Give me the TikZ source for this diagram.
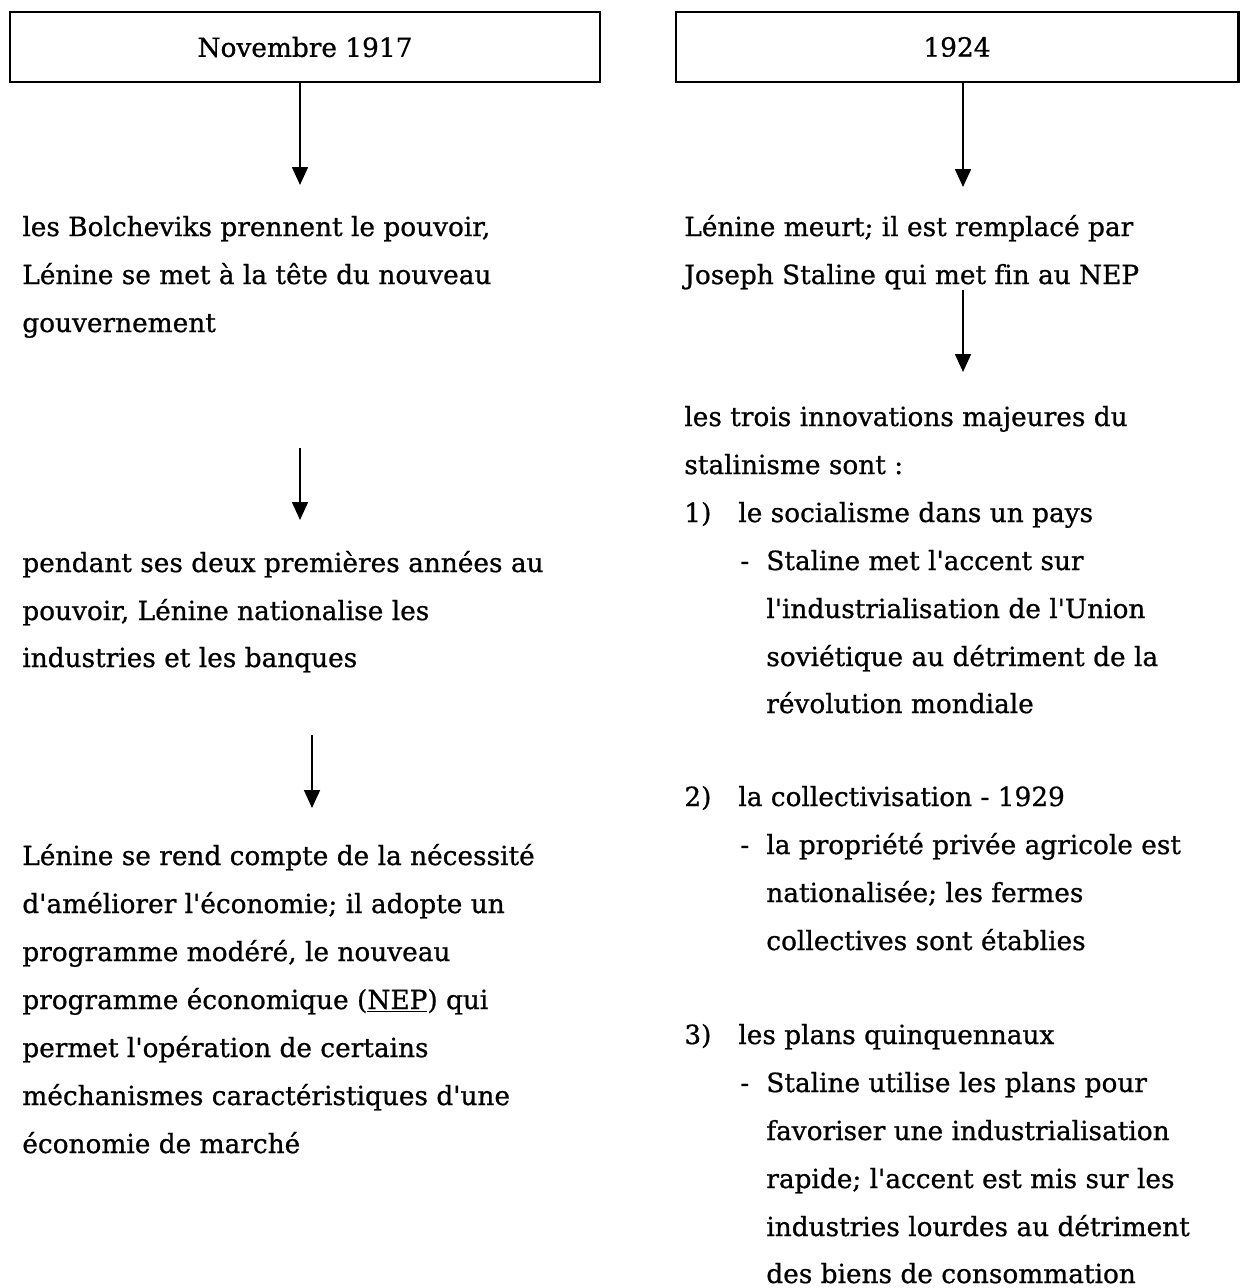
\documentclass[tikz,border=0pt]{standalone}
\usepackage{fontspec}
\setmainfont{DejaVu Serif}[Ligatures={TeXOff,NoCommon},FakeBold=0.8]
\usetikzlibrary{arrows.meta}
\newcommand{\corps}{\fontsize{15pt}{27pt}\selectfont}

\begin{document}
\begin{tikzpicture}[x=0.02cm,y=-0.02cm,
  datebox/.style={draw,line width=1.2pt,minimum height=1.4cm,inner sep=0pt,font=\corps},
  ligne/.style={anchor=base west,inner sep=0pt,font=\corps},
  fleche/.style={line width=1pt,-{Triangle[length=3.6mm,width=3.2mm]}}]
\useasboundingbox (0,0) rectangle (1241,1288);
% dates
\node[datebox,minimum width=11.8cm] (nov) at (305,47) {Novembre 1917};
\node[datebox,minimum width=11.26cm] (an) at (957,47) {1924};
% colonne de gauche
\coordinate (g1) at (300,185);
\draw[fleche] (nov.south -| g1) -- (g1);
\node[ligne] (ga1) at (22,236) {les Bolcheviks prennent le pouvoir,};
\node[ligne] (ga2) at (22,284) {Lénine se met à la tête du nouveau};
\node[ligne] (ga3) at (22,332) {gouvernement};
\coordinate (g2a) at (300,448);\coordinate (g2b) at (300,520);
\draw[fleche] (g2a) -- (g2b);
\node[ligne] (gb1) at (22,572) {pendant ses deux premières années au};
\node[ligne] (gb2) at (22,620) {pouvoir, Lénine nationalise les};
\node[ligne] (gb3) at (22,667) {industries et les banques};
\coordinate (g3a) at (312,735);\coordinate (g3b) at (312,808);
\draw[fleche] (g3a) -- (g3b);
\node[ligne] (gc1) at (22,865) {Lénine se rend compte de la nécessité};
\node[ligne] (gc2) at (22,913) {d'améliorer l'économie; il adopte un};
\node[ligne] (gc3) at (22,961) {programme modéré, le nouveau};
\node[ligne] (gc4) at (22,1009) {programme économique (\underline{NEP}) qui};
\node[ligne] (gc5) at (22,1057) {permet l'opération de certains};
\node[ligne] (gc6) at (22,1105) {méchanismes caractéristiques d'une};
\node[ligne] (gc7) at (22,1153) {économie de marché};
% colonne de droite
\coordinate (d1) at (963,187);
\draw[fleche] (an.south -| d1) -- (d1);
\node[ligne] (da1) at (684,236) {Lénine meurt; il est remplacé par};
\node[ligne] (da2) at (684,284) {Joseph Staline qui met fin au NEP};
\coordinate (d2a) at (963,290);\coordinate (d2b) at (963,372);
\draw[fleche] (d2a) -- (d2b);
\node[ligne] (db1) at (684,426) {les trois innovations majeures du};
\node[ligne] (db2) at (684,474) {stalinisme sont :};
% 1)
\node[ligne] (n1) at (684,522) {1)};
\node[ligne] (i1) at (738,522) {le socialisme dans un pays};
\node[ligne] (t1) at (740,570) {-};
\node[ligne] (s1a) at (766,570) {Staline met l'accent sur};
\node[ligne] (s1b) at (766,618) {l'industrialisation de l'Union};
\node[ligne] (s1c) at (766,666) {soviétique au détriment de la};
\node[ligne] (s1d) at (766,713) {révolution mondiale};
% 2)
\node[ligne] (n2) at (684,806) {2)};
\node[ligne] (i2) at (738,806) {la collectivisation - 1929};
\node[ligne] (t2) at (740,854) {-};
\node[ligne] (s2a) at (766,854) {la propriété privée agricole est};
\node[ligne] (s2b) at (766,902) {nationalisée; les fermes};
\node[ligne] (s2c) at (766,950) {collectives sont établies};
% 3)
\node[ligne] (n3) at (684,1044) {3)};
\node[ligne] (i3) at (738,1044) {les plans quinquennaux};
\node[ligne] (t3) at (740,1092) {-};
\node[ligne] (s3a) at (766,1092) {Staline utilise les plans pour};
\node[ligne] (s3b) at (766,1140) {favoriser une industrialisation};
\node[ligne] (s3c) at (766,1188) {rapide; l'accent est mis sur les};
\node[ligne] (s3d) at (766,1236) {industries lourdes au détriment};
\node[ligne] (s3e) at (766,1283) {des biens de consommation};
\end{tikzpicture}
\end{document}
